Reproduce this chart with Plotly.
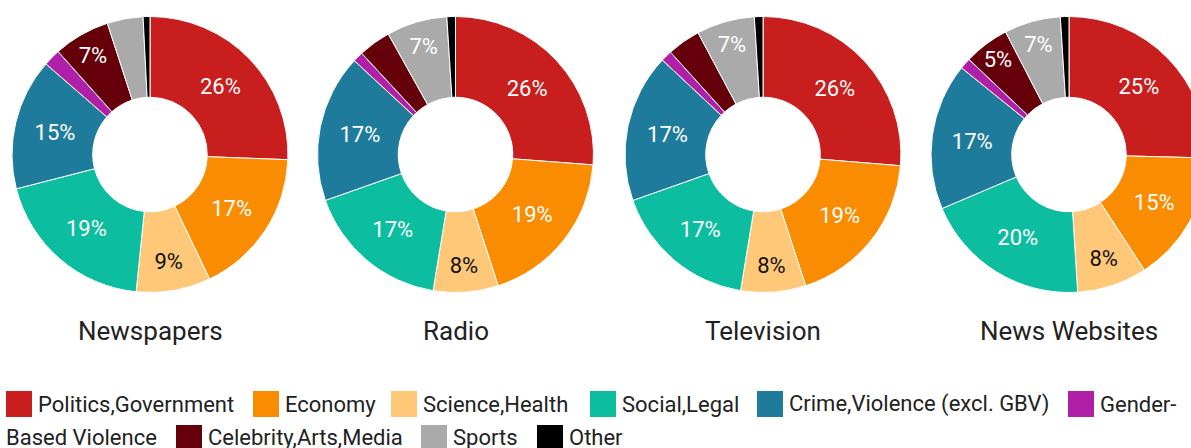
import plotly.graph_objects as go

# topic share per medium (percent of stories)
categories = ["Politics,Government", "Economy", "Science,Health", "Social,Legal",
              "Crime,Violence (excl. GBV)", "Gender-Based Violence",
              "Celebrity,Arts,Media", "Sports", "Other"]
colors = ["#c81e1e", "#f98c00", "#fec878", "#0cbd9f", "#1f7b9c", "#b01fa8",
          "#65000a", "#aaaaaa", "#000000"]
media = ["Newspapers", "Radio", "Television", "News Websites"]

newspapers = [25.6, 17.3, 8.7, 19.4, 15.4, 2.0, 6.6, 4.2, 0.8]
radio = [26.2, 18.8, 7.6, 17.0, 17.3, 1.2, 3.8, 7.1, 1.0]
television = [26.3, 18.7, 7.6, 17.0, 17.4, 1.3, 3.9, 6.8, 1.0]
news_websites = [25.4, 15.4, 8.2, 19.6, 17.2, 1.3, 5.3, 6.6, 1.0]

series = [newspapers, radio, television, news_websites]

W, H = 1215, 448
FONT = "Roboto"
TXT = "#222222"


def px(x):
    return x / W


def py(y):
    return 1 - y / H


centers = [150, 455.5, 763, 1069]
cy, r = 154.5, 138

fig = go.Figure()

for name, vals, cx in zip(media, series, centers):
    labels_txt = [f"{round(v)}%" if v >= 5 else "" for v in vals]
    txt_colors = ["#111111" if c == "Science,Health" else "white" for c in categories]
    fig.add_trace(go.Pie(
        labels=categories, values=vals, name=name,
        sort=False, direction="clockwise", rotation=0, hole=0.415,
        marker=dict(colors=colors, line=dict(color="white", width=1)),
        text=labels_txt, textinfo="text", textposition="inside",
        insidetextorientation="horizontal",
        textfont=dict(family=FONT, size=22, color=txt_colors),
        domain=dict(x=[px(cx - r), px(cx + r)], y=[py(cy + r), py(cy - r)]),
        showlegend=False, hoverinfo="label+percent+name",
    ))
    fig.add_annotation(x=px(cx), y=py(331), xref="paper", yref="paper",
                       text=name, showarrow=False, xanchor="center", yanchor="middle",
                       font=dict(family=FONT, size=26, color=TXT))

# hand-built legend that wraps like the original
first, rest = categories[5].split("-", 1)
row1 = [(categories[0], 6), (categories[1], 253), (categories[2], 391),
        (categories[3], 590), (categories[4], 757), (first + "-", 1068)]
row2 = [(categories[6], 176), (categories[7], 421), (categories[8], 537)]
row1_colors = colors[:6]
row2_colors = colors[6:]

for (label, sx), col in zip(row1, row1_colors):
    fig.add_shape(type="rect", xref="paper", yref="paper",
                  x0=px(sx), x1=px(sx + 26), y0=py(417), y1=py(391),
                  fillcolor=col, line=dict(width=0))
    fig.add_annotation(x=px(sx + 30), y=py(404), xref="paper", yref="paper",
                       text=label, showarrow=False, xanchor="left", yanchor="middle",
                       font=dict(family=FONT, size=22, color=TXT))

fig.add_annotation(x=px(4), y=py(437), xref="paper", yref="paper",
                   text=rest, showarrow=False, xanchor="left", yanchor="middle",
                   font=dict(family=FONT, size=22, color=TXT))
for (label, sx), col in zip(row2, row2_colors):
    fig.add_shape(type="rect", xref="paper", yref="paper",
                  x0=px(sx), x1=px(sx + 26), y0=py(451), y1=py(425),
                  fillcolor=col, line=dict(width=0))
    fig.add_annotation(x=px(sx + 30), y=py(437), xref="paper", yref="paper",
                       text=label, showarrow=False, xanchor="left", yanchor="middle",
                       font=dict(family=FONT, size=22, color=TXT))

fig.update_layout(
    width=W, height=H,
    margin=dict(l=0, r=0, t=0, b=0),
    paper_bgcolor="white", plot_bgcolor="white",
    font=dict(family=FONT, color=TXT),
)

# the last donut runs past the right edge in the original, so clip the page at 1191px
clip_js = ("var gd=document.getElementById('{plot_id}');"
           "gd.parentElement.style.width='1191px';"
           "gd.parentElement.style.overflow='hidden';"
           "document.body.style.margin='0';")

fig.write_html("out.html", post_script=clip_js, config=dict(displayModeBar=False))
